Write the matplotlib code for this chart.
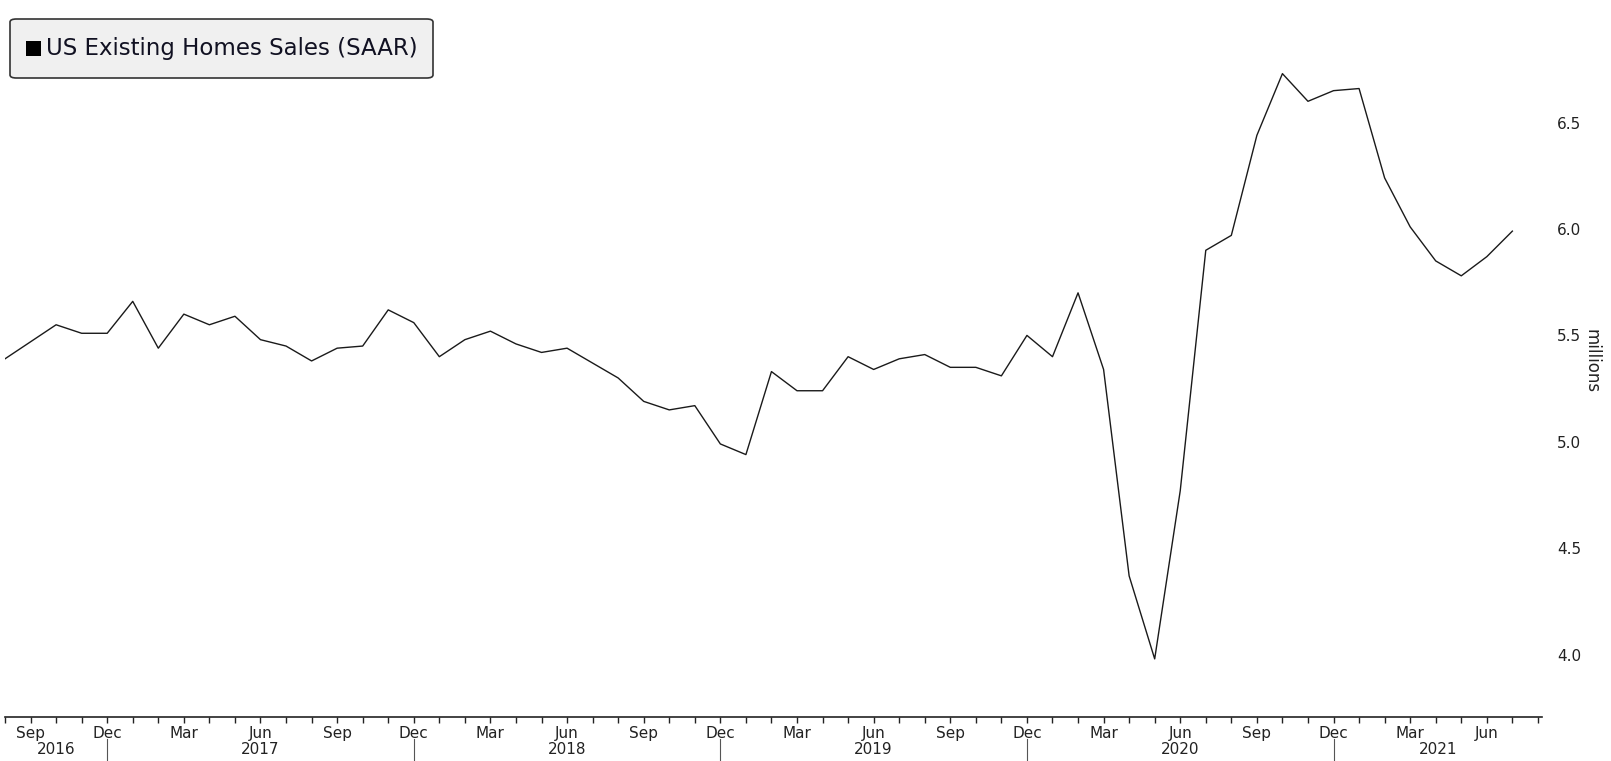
import numpy as np
import matplotlib
matplotlib.use("Agg")
import matplotlib.pyplot as plt
from matplotlib.patches import FancyBboxPatch
import matplotlib.transforms as mtransforms

# monthly data, Aug 2016 .. Jul 2021
start_year = 2016
start_month = 8
sales = [5.39, 5.47, 5.55, 5.51, 5.51, 5.66, 5.44, 5.60, 5.55, 5.59,   # Aug16 - May17
         5.48, 5.45, 5.38, 5.44, 5.45, 5.62, 5.56, 5.40, 5.48, 5.52,   # Jun17 - Mar18
         5.46, 5.42, 5.44, 5.37, 5.30, 5.19, 5.15, 5.17, 4.99, 4.94,   # Apr18 - Jan19
         5.33, 5.24, 5.24, 5.40, 5.34, 5.39, 5.41, 5.35, 5.35, 5.31,   # Feb19 - Nov19
         5.50, 5.40, 5.70, 5.34, 4.37, 3.98, 4.77, 5.90, 5.97, 6.44,   # Dec19 - Sep20
         6.73, 6.60, 6.65, 6.66, 6.24, 6.01, 5.85, 5.78, 5.87, 5.99]   # Oct20 - Jul21
month_names = ["Jan", "Feb", "Mar", "Apr", "May", "Jun",
               "Jul", "Aug", "Sep", "Oct", "Nov", "Dec"]
shown_months = ["Sep", "Dec", "Mar", "Jun"]
legend_label = "US Existing Homes Sales (SAAR)"
y_ticks = [4.0, 4.5, 5.0, 5.5, 6.0, 6.5]

W, H = 1611, 761
fig = plt.figure(figsize=(W / 100, H / 100), dpi=100)
fig.patch.set_facecolor("white")

# axes box in pixels
left, right, bottom, top = 5, 1542, 717, 0
ax = fig.add_axes([left / W, (H - bottom) / H, (right - left) / W, (bottom - top) / H])

x = np.arange(len(sales))
ax.plot(x, sales, color="#1a1a1a", lw=1.0)

x_end = 60.16
ax.set_xlim(0, x_end)
ax.set_ylim(3.707, 7.076)

for s in ["top", "left", "right"]:
    ax.spines[s].set_visible(False)
ax.spines["bottom"].set_color("#222222")
ax.spines["bottom"].set_linewidth(1.2)

# month ticks
n_ticks = len(sales) + 1
tick_pos = np.arange(n_ticks)
labels = []
years = []
for i in tick_pos:
    m = (start_month - 1 + i) % 12
    y = start_year + (start_month - 1 + i) // 12
    name = month_names[m]
    labels.append(name if name in shown_months else "")
    years.append((y, m))
ax.set_xticks(tick_pos)
ax.set_xticklabels(labels, fontsize=11, color="#222222")
ax.tick_params(axis="x", direction="out", length=4, width=1.0, color="#222222", pad=2.5)

# y axis on the right, no tick lines
ax.yaxis.tick_right()
ax.set_yticks(y_ticks)
ax.set_yticklabels(["%.1f" % v for v in y_ticks], fontsize=11, color="#222222")
ax.tick_params(axis="y", length=0, pad=11)
fig.text(1591 / W, 1 - 361 / H, "millions", rotation=270, fontsize=12,
         color="#222222", ha="center", va="center")

# year separators at Dec and year labels
trans = mtransforms.blended_transform_factory(ax.transData, fig.transFigure)
dec_pos = [i for i, (yy, m) in zip(tick_pos, years) if m == 11]
bounds = [0] + dec_pos + [x_end]
for d in dec_pos:
    ax.plot([d, d], [1 - 739 / H, 0], transform=trans, color="#555555", lw=0.8,
            clip_on=False)
for k in range(len(bounds) - 1):
    yr = start_year + k
    ax.text((bounds[k] + bounds[k + 1]) / 2, 1 - 750 / H, str(yr), transform=trans,
            ha="center", va="center", fontsize=11, color="#222222")

# legend box
box = FancyBboxPatch((10 / W, 1 - 78 / H), 423 / W, 59 / H,
                     boxstyle="round,pad=0,rounding_size=0.004",
                     transform=fig.transFigure, facecolor="#f0f0f0",
                     edgecolor="#333333", linewidth=1.2)
fig.patches.append(box)
fig.patches.append(plt.Rectangle((26 / W, 1 - 56 / H), 15 / W, 15 / H,
                                 transform=fig.transFigure, facecolor="black",
                                 edgecolor="none"))
fig.text(46 / W, 1 - 49 / H, legend_label, fontsize=16.5, color="#111122",
         ha="left", va="center")

fig.savefig("out.png", dpi=100)
